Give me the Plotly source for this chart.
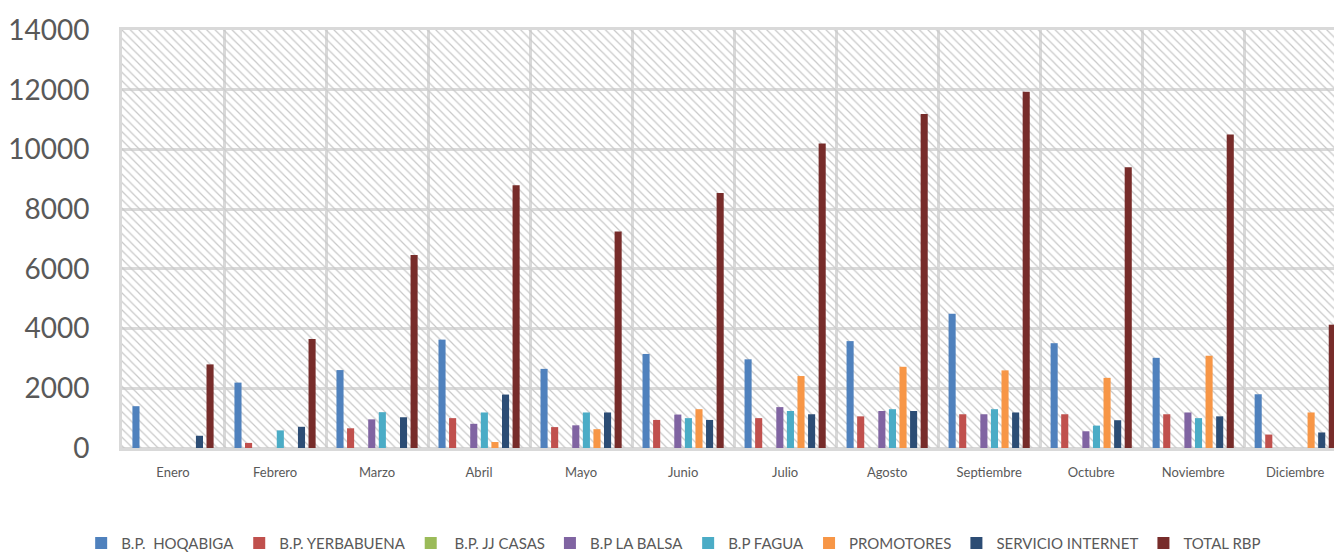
import plotly.graph_objects as go

months = ["Enero", "Febrero", "Marzo", "Abril", "Mayo", "Junio", "Julio",
          "Agosto", "Septiembre", "Octubre", "Noviembre", "Diciembre"]

hoqabiga    = [1400, 2190, 2610, 3630, 2650, 3150, 2970, 3580, 4500, 3510, 3020, 1800]
yerbabuena  = [0, 170, 660, 1000, 700, 940, 1000, 1060, 1130, 1130, 1130, 450]
jj_casas    = [0, 0, 0, 0, 0, 0, 0, 0, 0, 0, 0, 0]
la_balsa    = [0, 0, 960, 810, 760, 1120, 1370, 1240, 1130, 560, 1190, 0]
fagua       = [0, 590, 1200, 1190, 1190, 1000, 1240, 1300, 1300, 750, 1000, 0]
promotores  = [0, 0, 0, 200, 630, 1300, 2410, 2720, 2600, 2350, 3090, 1190]
servicio    = [410, 710, 1030, 1790, 1190, 940, 1130, 1240, 1190, 930, 1060, 520]
total_rbp   = [2800, 3650, 6460, 8800, 7250, 8540, 10200, 11190, 11930, 9400, 10500, 4130]

series_names = ["B.P.\u00a0 HOQABIGA", "B.P. YERBABUENA", "\u00a0B.P. JJ CASAS", "B.P LA BALSA",
                "B.P FAGUA", "PROMOTORES", "SERVICIO INTERNET", "TOTAL RBP"]
series_values = [hoqabiga, yerbabuena, jj_casas, la_balsa, fagua, promotores, servicio, total_rbp]
series_colors = ["#4F81BD", "#C0504D", "#9BBB59", "#8064A2", "#4BACC6", "#F79646", "#2C4D75", "#772C2A"]

Y_MAX = 14000
Y_TICKS = [0, 2000, 4000, 6000, 8000, 10000, 12000, 14000]

fig = go.Figure()

# hatched plot-area background (main subplot, drawn beneath the data subplot)
fig.add_trace(go.Bar(
    x=[0.5], y=[Y_MAX], width=[1], xaxis="x", yaxis="y",
    marker=dict(color="#c8c8c8", line=dict(width=0),
                pattern=dict(shape="\\", fillmode="replace", size=6, solidity=0.2)),
    showlegend=False, hoverinfo="skip",
))

for name, vals, col in zip(series_names, series_values, series_colors):
    fig.add_trace(go.Bar(
        x=months, y=vals, name=name, xaxis="x2", yaxis="y",
        marker=dict(color=col, line=dict(width=0)),
    ))

grid_col = "#d9d9d9"
tick_font = dict(family="Lato, Open Sans, sans-serif", color="#595959")

fig.update_layout(
    width=1334, height=552,
    margin=dict(l=122, r=0, t=30, b=104, autoexpand=False),
    paper_bgcolor="white", plot_bgcolor="white",
    barmode="group", bargap=0.17, bargroupgap=0.33,
    xaxis=dict(range=[0, 1], visible=False, showgrid=False, zeroline=False, fixedrange=True),
    xaxis2=dict(
        type="category", overlaying="x", side="bottom", anchor="y",
        range=[-0.5, 11.38], tickson="boundaries",
        showgrid=True, gridcolor=grid_col, gridwidth=3,
        showline=True, linecolor=grid_col, linewidth=3, mirror=True,
        ticks="", ticklabelstandoff=10,
        tickfont=dict(size=13, **tick_font),
    ),
    yaxis=dict(
        range=[0, Y_MAX], tickvals=Y_TICKS, tickformat="d",
        showgrid=True, gridcolor=grid_col, gridwidth=3,
        zeroline=True, zerolinecolor=grid_col, zerolinewidth=3,
        showline=True, linecolor=grid_col, linewidth=3,
        ticks="", ticklabelstandoff=24,
        tickfont=dict(size=28, **tick_font),
    ),
    legend=dict(
        orientation="h", xref="container", yref="container",
        x=0.505, xanchor="center", y=0.016, yanchor="middle",
        font=dict(size=15, family="Lato, Open Sans, sans-serif", color="#595959"),
        itemwidth=30, tracegroupgap=0,
    ),
    showlegend=True,
)

fig.write_html("out.html", config={"displayModeBar": False},
               post_script="document.body.style.margin='0';")
